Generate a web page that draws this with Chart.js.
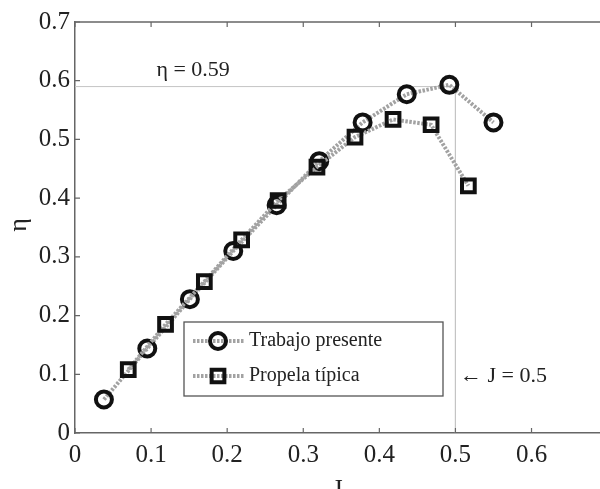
<!DOCTYPE html>
<html><head><meta charset="utf-8">
<script src="https://cdn.jsdelivr.net/npm/chart.js@4/dist/chart.umd.min.js"></script>
<style>html,body{margin:0;padding:0;background:#fff;overflow:hidden}#wrap{width:600px;height:489px}canvas{display:block}</style>
</head><body><div id="wrap"><canvas id="c" width="600" height="489"></canvas></div>
<script>
// ---- data ----
const seriesNames = ['Trabajo presente', 'Propela típica'];
const trabajoJ   = [0.038, 0.095, 0.151, 0.208, 0.265, 0.321, 0.378, 0.436, 0.492, 0.550];
const trabajoEta = [0.057, 0.144, 0.228, 0.310, 0.388, 0.463, 0.529, 0.577, 0.593, 0.529];
const propelaJ   = [0.070, 0.119, 0.170, 0.219, 0.267, 0.318, 0.368, 0.418, 0.468, 0.517];
const propelaEta = [0.108, 0.185, 0.258, 0.329, 0.396, 0.453, 0.504, 0.534, 0.525, 0.421];
const refJ   = [0, 0.5, 0.5];
const refEta = [0.59, 0.59, 0];
const xTicks = [0, 0.1, 0.2, 0.3, 0.4, 0.5, 0.6];
const yTicks = [0, 0.1, 0.2, 0.3, 0.4, 0.5, 0.6, 0.7];
const xTitle = 'J';
const yTitle = 'η';
const etaNote = 'η = 0.59';
const jNote = '← J = 0.5';

const FONT = "'Liberation Serif', 'Times New Roman', serif";
const toPts = (xs, ys) => xs.map((x, i) => ({x: x, y: ys[i]}));

const lineGrey = '#a2a2a2';
const lineDash = [2.5, 1.5];

const framePlugin = {
  id: 'frame',
  afterDraw(chart) {
    const ctx = chart.ctx;
    const a = chart.chartArea;
    const xs = chart.scales.x, ys = chart.scales.y;
    ctx.save();
    ctx.strokeStyle = '#666';
    ctx.lineWidth = 1.5;
    ctx.beginPath();
    ctx.moveTo(a.left, a.top); ctx.lineTo(a.right, a.top);
    ctx.stroke();
    ctx.lineWidth = 1.2;
    ctx.beginPath();
    xTicks.forEach(v => {
      const px = xs.getPixelForValue(v);
      ctx.moveTo(px, a.bottom); ctx.lineTo(px, a.bottom - 5);
      ctx.moveTo(px, a.top); ctx.lineTo(px, a.top + 5);
    });
    yTicks.forEach(v => {
      const py = ys.getPixelForValue(v);
      ctx.moveTo(a.left, py); ctx.lineTo(a.left + 5, py);
    });
    ctx.stroke();

    // annotations
    ctx.fillStyle = '#222';
    ctx.font = '22px ' + FONT;
    ctx.textBaseline = 'middle';
    ctx.textAlign = 'left';
    ctx.fillText(etaNote, xs.getPixelForValue(0.107), ys.getPixelForValue(0.618));
    ctx.fillText(jNote, xs.getPixelForValue(0.506), ys.getPixelForValue(0.097));

    // axis titles
    ctx.font = '26px ' + FONT;
    ctx.textAlign = 'center';
    ctx.textBaseline = 'alphabetic';
    ctx.fillText(xTitle, (a.left + a.right) / 2, 497);
    ctx.save();
    ctx.translate(19, 225);
    ctx.rotate(-Math.PI / 2);
    ctx.textBaseline = 'middle';
    ctx.fillText(yTitle, 0, 0);
    ctx.restore();

    // legend
    const bx = 184, by = 322, bw = 259, bh = 74;
    ctx.fillStyle = '#fff';
    ctx.fillRect(bx, by, bw, bh);
    ctx.strokeStyle = '#555';
    ctx.lineWidth = 1.3;
    ctx.strokeRect(bx, by, bw, bh);
    const rows = [by + 19, by + 54];
    chart.data.datasets.slice(0, 2).forEach((ds, i) => {
      const y = rows[i];
      ctx.strokeStyle = lineGrey;
      ctx.lineWidth = ds.borderWidth;
      ctx.setLineDash(lineDash);
      ctx.beginPath(); ctx.moveTo(bx + 9, y); ctx.lineTo(bx + 61, y); ctx.stroke();
      ctx.setLineDash([]);
      ctx.strokeStyle = '#111';
      ctx.fillStyle = 'rgba(0,0,0,0)';
      ctx.lineWidth = ds.pointBorderWidth;
      Chart.helpers.drawPoint(ctx, {pointStyle: ds.pointStyle, radius: ds.pointRadius, borderWidth: ds.pointBorderWidth}, bx + 34, y);
      ctx.fillStyle = '#222';
      ctx.font = '20px ' + FONT;
      ctx.textAlign = 'left';
      ctx.textBaseline = 'middle';
      ctx.fillText(ds.label, bx + 65, y);
    });
    ctx.restore();
  }
};

new Chart(document.getElementById('c'), {
  type: 'scatter',
  data: {
    datasets: [
      {
        label: seriesNames[0],
        data: toPts(trabajoJ, trabajoEta),
        showLine: true,
        borderColor: lineGrey,
        borderWidth: 4,
        borderDash: lineDash,
        pointStyle: 'circle',
        pointRadius: 8,
        pointBorderWidth: 4,
        pointBorderColor: '#111',
        pointBackgroundColor: 'rgba(0,0,0,0)',
        order: 1
      },
      {
        label: seriesNames[1],
        data: toPts(propelaJ, propelaEta),
        showLine: true,
        borderColor: lineGrey,
        borderWidth: 4,
        borderDash: lineDash,
        pointStyle: 'rect',
        pointRadius: 9,
        pointBorderWidth: 4,
        pointBorderColor: '#111',
        pointBackgroundColor: 'rgba(0,0,0,0)',
        order: 0
      },
      {
        label: 'ref',
        data: toPts(refJ, refEta),
        showLine: true,
        borderColor: '#c4c4c4',
        borderWidth: 1,
        pointRadius: 0,
        order: 2
      }
    ]
  },
  options: {
    responsive: false,
    animation: false,
    devicePixelRatio: 1,
    layout: {autoPadding: false, padding: {left: 0, top: 22, right: 0, bottom: 0}},
    plugins: {legend: {display: false}, tooltip: {enabled: false}},
    scales: {
      x: {
        type: 'linear',
        min: 0, max: 0.69,
        afterBuildTicks: s => { s.ticks = xTicks.map(v => ({value: v})); },
        afterFit: s => { s.height = 56; s.paddingRight = 0; s.paddingLeft = 0; },
        ticks: {
          color: '#222',
          font: {family: FONT, size: 25},
          padding: 7,
          maxRotation: 0,
          callback: v => String(v)
        },
        grid: {display: false, drawTicks: false, tickLength: 0},
        border: {display: true, color: '#666', width: 1.5}
      },
      y: {
        type: 'linear',
        min: 0, max: 0.7,
        afterBuildTicks: s => { s.ticks = yTicks.map(v => ({value: v})); },
        afterFit: s => { s.width = 75; },
        ticks: {
          color: '#222',
          font: {family: FONT, size: 25},
          padding: 5,
          callback: v => String(v)
        },
        grid: {display: false, drawTicks: false, tickLength: 0},
        border: {display: true, color: '#666', width: 1.5}
      }
    }
  },
  plugins: [framePlugin]
});
</script>
</body></html>
